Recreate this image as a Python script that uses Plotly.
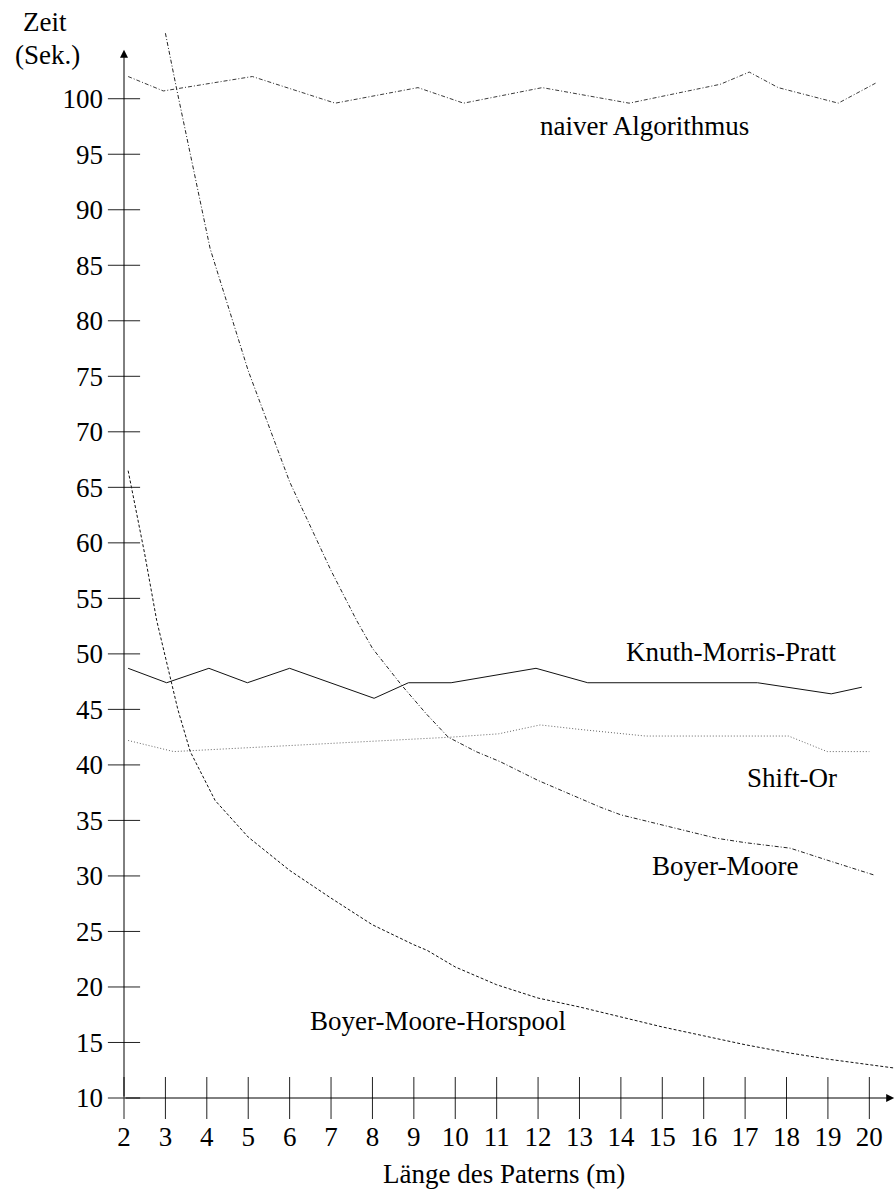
import plotly.graph_objects as go

# x ticks (pattern length m) and y ticks (time in seconds)
x_ticks = list(range(2, 21))
y_ticks = list(range(10, 101, 5))

# naiver Algorithmus
naive_x = [2.1, 2.95, 5.1, 7.1, 9.1, 10.2, 12.1, 14.2, 16.4, 17.1, 17.8, 19.25, 20.15]
naive_y = [102.0, 100.7, 102.0, 99.6, 101.0, 99.6, 101.0, 99.6, 101.3, 102.4, 101.0, 99.6, 101.4]

# Knuth-Morris-Pratt
kmp_x = [2.1, 3.03, 4.05, 4.98, 6.0, 8.04, 8.87, 9.9, 11.95, 13.2, 17.3, 19.08, 19.82]
kmp_y = [48.7, 47.4, 48.7, 47.4, 48.7, 46.0, 47.4, 47.4, 48.7, 47.4, 47.4, 46.4, 47.0]

# Shift-Or
so_x = [2.1, 3.2, 9.9, 11.05, 12.05, 13.0, 14.6, 18.05, 18.98, 20.0]
so_y = [42.2, 41.2, 42.5, 42.8, 43.6, 43.2, 42.6, 42.6, 41.2, 41.2]

# Boyer-Moore
bm_x = [3.0, 3.27, 4.08, 5.0, 6.0, 7.0, 7.62, 8.0, 8.7, 9.3, 9.83, 10.5, 11.08, 12.0, 13.0, 13.5, 14.0, 15.0, 16.3, 17.0, 18.09, 19.0, 20.1]
bm_y = [105.9, 100.9, 86.5, 75.5, 65.5, 57.5, 53.0, 50.5, 47.2, 44.6, 42.5, 41.2, 40.3, 38.6, 37.0, 36.2, 35.5, 34.6, 33.4, 33.0, 32.5, 31.4, 30.1]

# Boyer-Moore-Horspool
bmh_x = [2.1, 2.5, 2.79, 2.95, 3.3, 3.6, 4.0, 4.2, 5.0, 6.0, 7.0, 8.0, 9.0, 9.32, 10.0, 11.0, 12.0, 13.0, 14.0, 15.0, 16.0, 17.0, 18.0, 19.0, 20.0, 20.6]
bmh_y = [66.5, 59.0, 53.0, 50.5, 45.0, 41.2, 38.2, 36.8, 33.5, 30.5, 28.0, 25.6, 23.8, 23.3, 21.8, 20.2, 19.0, 18.2, 17.3, 16.4, 15.6, 14.8, 14.1, 13.5, 13.0, 12.7]

labels = ['naiver Algorithmus', 'Knuth-Morris-Pratt', 'Shift-Or', 'Boyer-Moore', 'Boyer-Moore-Horspool']
label_x = [14.58, 16.67, 18.14, 16.52, 9.58]
label_y = [97.5, 50.15, 38.8, 30.9, 16.9]

FONT = 'Liberation Serif'
fs = 27

fig = go.Figure()

series = [
    (naive_x, naive_y, '#3a3a3a', '4px,2px,1px,2px'),
    (kmp_x, kmp_y, '#111111', 'solid'),
    (so_x, so_y, '#666666', '1px,2px'),
    (bm_x, bm_y, '#222222', '4px,2px,1px,2px'),
    (bmh_x, bmh_y, '#111111', '3px,2px'),
]
for xs, ys, col, dash in series:
    fig.add_trace(go.Scatter(x=xs, y=ys, mode='lines',
                             line=dict(color=col, width=1, dash=dash),
                             showlegend=False, hoverinfo='skip'))

# crossing tick marks on both axes
fig.add_trace(go.Scatter(x=[2] * len(y_ticks), y=y_ticks, mode='markers', cliponaxis=False,
                         marker=dict(symbol='line-ew', size=23, line=dict(color='#222', width=1)),
                         showlegend=False, hoverinfo='skip'))
fig.add_trace(go.Scatter(x=x_ticks, y=[10] * len(x_ticks), mode='markers', cliponaxis=False,
                         marker=dict(symbol='line-ns', size=30, line=dict(color='#222', width=1)),
                         showlegend=False, hoverinfo='skip'))

# axis lines with arrow heads
fig.add_annotation(x=2, y=104.4, ax=2, ay=10, xref='x', yref='y', axref='x', ayref='y',
                   showarrow=True, arrowhead=2, arrowsize=1.6, arrowwidth=1, arrowcolor='black', text='')
fig.add_annotation(x=20.6, y=10, ax=2, ay=10, xref='x', yref='y', axref='x', ayref='y',
                   showarrow=True, arrowhead=2, arrowsize=1.6, arrowwidth=1, arrowcolor='black', text='')

for t, lx, ly in zip(labels, label_x, label_y):
    fig.add_annotation(x=lx, y=ly, xref='x', yref='y', text=t, showarrow=False,
                       xanchor='center', yanchor='middle',
                       font=dict(family=FONT, size=fs, color='black'))

# axis titles, placed in pixels then converted to paper coords
W, H = 895, 1192
L, R, T, B = 124, 0, 21, 94
pw, ph = W - L - R, H - T - B
titles = [('Zeit', 45, 22), ('(Sek.)', 47, 55), ('Länge des Paterns (m)', 504, 1174)]
for t, px, py in titles:
    fig.add_annotation(x=(px - L) / pw, y=1 - (py - T) / ph, xref='paper', yref='paper',
                       text=t, showarrow=False, xanchor='center', yanchor='middle',
                       font=dict(family=FONT, size=fs, color='black'))

fig.update_layout(
    width=W, height=H,
    margin=dict(l=L, r=R, t=T, b=B),
    paper_bgcolor='white', plot_bgcolor='white',
    font=dict(family=FONT, size=fs, color='black'),
    xaxis=dict(range=[2, 20.62], tickvals=x_ticks, showgrid=False, zeroline=False,
               showline=False, ticks='', ticklabelstandoff=20),
    yaxis=dict(range=[10, 107], tickvals=y_ticks, showgrid=False, zeroline=False,
               showline=False, ticks='', ticklabelstandoff=20),
)

# drop the default 8px body margin so the figure fills the window exactly
fig.write_html('out.html', config={'displayModeBar': False},
               post_script="document.body.style.margin='0';")
